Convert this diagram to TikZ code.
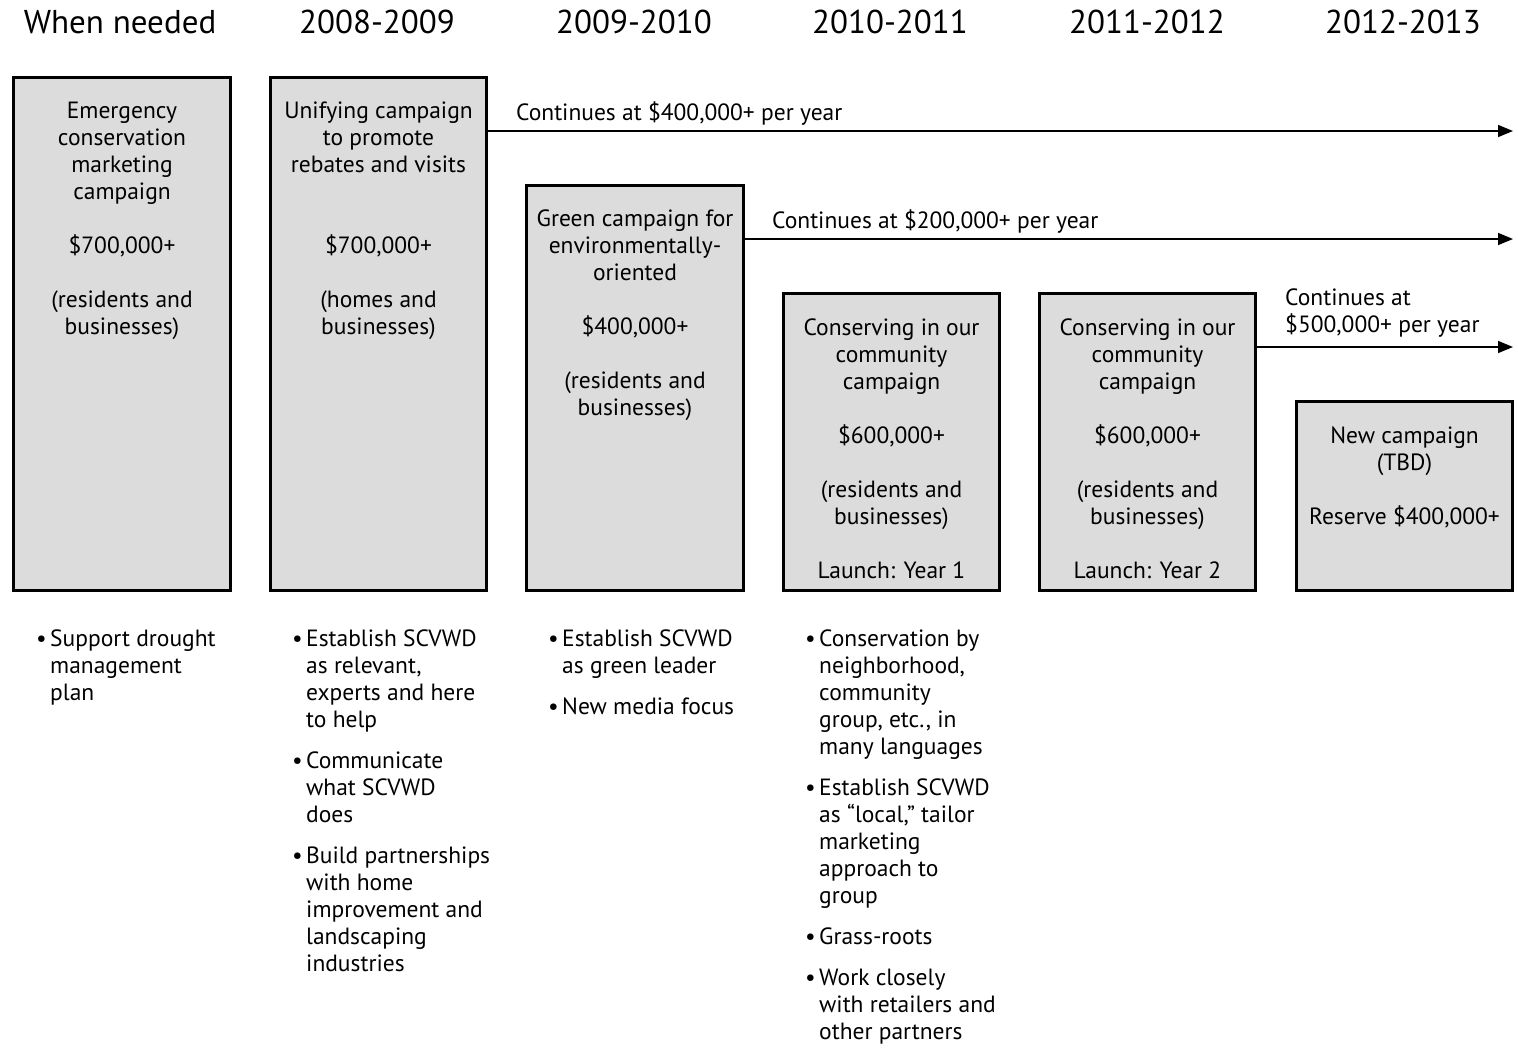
\documentclass[tikz,border=0pt]{standalone}
\usepackage{fontspec}
\setmainfont{PT Sans}
\usetikzlibrary{arrows.meta}
\definecolor{boxgray}{HTML}{DCDCDC}
\tikzset{
  campbox/.style={draw, line width=3pt, fill=boxgray, anchor=north west, inner sep=0pt},
  boxtext/.style={anchor=north, inner sep=0pt, align=center, font=\fontsize{23.5}{27}\selectfont},
  yearhead/.style={anchor=center, inner sep=0pt, font=\fontsize{33}{38}\selectfont},
  contlabel/.style={anchor=base west, inner sep=0pt, align=left, font=\fontsize{23.5}{27}\selectfont},
  bullets/.style={anchor=base west, inner sep=0pt, font=\fontsize{23.5}{27}\selectfont},
  contarrow/.style={line width=1.5pt, -{Triangle[length=15pt,width=12pt]}}
}
\newcommand{\bl}{\textbullet}
\begin{document}
\begin{tikzpicture}[x=1pt,y=-1pt]
\useasboundingbox (0,0) rectangle (1518,1047);
% headers
\node[yearhead] (h1) at (120,22) {When needed};
\node[yearhead] (h2) at (377,22) {2008-2009};
\node[yearhead] (h3) at (634,22) {2009-2010};
\node[yearhead] (h4) at (890,22) {2010-2011};
\node[yearhead] (h5) at (1147,22) {2011-2012};
\node[yearhead] (h6) at (1403,22) {2012-2013};
% boxes
\node[campbox, minimum width=217pt, minimum height=513pt] (b1) at (12,76) {};
\node[campbox, minimum width=216pt, minimum height=513pt] (b2) at (269,76) {};
\node[campbox, minimum width=217pt, minimum height=405pt] (b3) at (525,184) {};
\node[campbox, minimum width=216pt, minimum height=297pt] (b4) at (782,292) {};
\node[campbox, minimum width=216pt, minimum height=297pt] (b5) at (1038,292) {};
\node[campbox, minimum width=216pt, minimum height=189pt] (b6) at (1295,400) {};
% box texts
\node[boxtext] (t1) at ([yshift=-26pt]b1.north) {Emergency\\conservation\\marketing\\campaign\\[27pt]\$700,000+\\[27pt](residents and\\businesses)};
\node[boxtext] (t2) at ([yshift=-26pt]b2.north) {Unifying campaign\\to promote\\rebates and visits\\[54pt]\$700,000+\\[27pt](homes and\\businesses)};
\node[boxtext] (t3) at ([yshift=-26pt]b3.north) {Green campaign for\\environmentally-\\oriented\\[27pt]\$400,000+\\[27pt](residents and\\businesses)};
\node[boxtext] (t4) at ([yshift=-27pt]b4.north) {Conserving in our\\community\\campaign\\[27pt]\$600,000+\\[27pt](residents and\\businesses)\\[27pt]Launch: Year 1};
\node[boxtext] (t5) at ([yshift=-27pt]b5.north) {Conserving in our\\community\\campaign\\[27pt]\$600,000+\\[27pt](residents and\\businesses)\\[27pt]Launch: Year 2};
\node[boxtext] (t6) at ([yshift=-27pt]b6.north) {New campaign\\(TBD)\\[27pt]Reserve \$400,000+};
% arrows
\coordinate (e1) at (1513,131);
\coordinate (e2) at (1513,239);
\coordinate (e3) at (1513,347);
\draw[contarrow] (b2.east |- e1) -- (e1);
\draw[contarrow] (b3.east |- e2) -- (e2);
\draw[contarrow] (b5.east |- e3) -- (e3);
\node[contlabel] (l1) at (516,120) {Continues at \$400,000+ per year};
\node[contlabel] (l2) at (772,228) {Continues at \$200,000+ per year};
\node[contlabel] (l3) at (1285,332) {Continues at\\\$500,000+ per year};
% bullets
\node[bullets] (p1) at (36,646) {\begin{tabular}[t]{@{}p{14pt}@{}l@{}}
\bl & Support drought\\ & management\\ & plan
\end{tabular}};
\node[bullets] (p2) at (292,646) {\begin{tabular}[t]{@{}p{14pt}@{}l@{}}
\bl & Establish SCVWD\\ & as relevant,\\ & experts and here\\ & to help\\[14pt]
\bl & Communicate\\ & what SCVWD\\ & does\\[14pt]
\bl & Build partnerships\\ & with home\\ & improvement and\\ & landscaping\\ & industries
\end{tabular}};
\node[bullets] (p3) at (548,646) {\begin{tabular}[t]{@{}p{14pt}@{}l@{}}
\bl & Establish SCVWD\\ & as green leader\\[14pt]
\bl & New media focus
\end{tabular}};
\node[bullets] (p4) at (805,646) {\begin{tabular}[t]{@{}p{14pt}@{}l@{}}
\bl & Conservation by\\ & neighborhood,\\ & community\\ & group, etc., in\\ & many languages\\[14pt]
\bl & Establish SCVWD\\ & as “local,” tailor\\ & marketing\\ & approach to\\ & group\\[14pt]
\bl & Grass-roots\\[14pt]
\bl & Work closely\\ & with retailers and\\ & other partners
\end{tabular}};
\end{tikzpicture}
\end{document}
